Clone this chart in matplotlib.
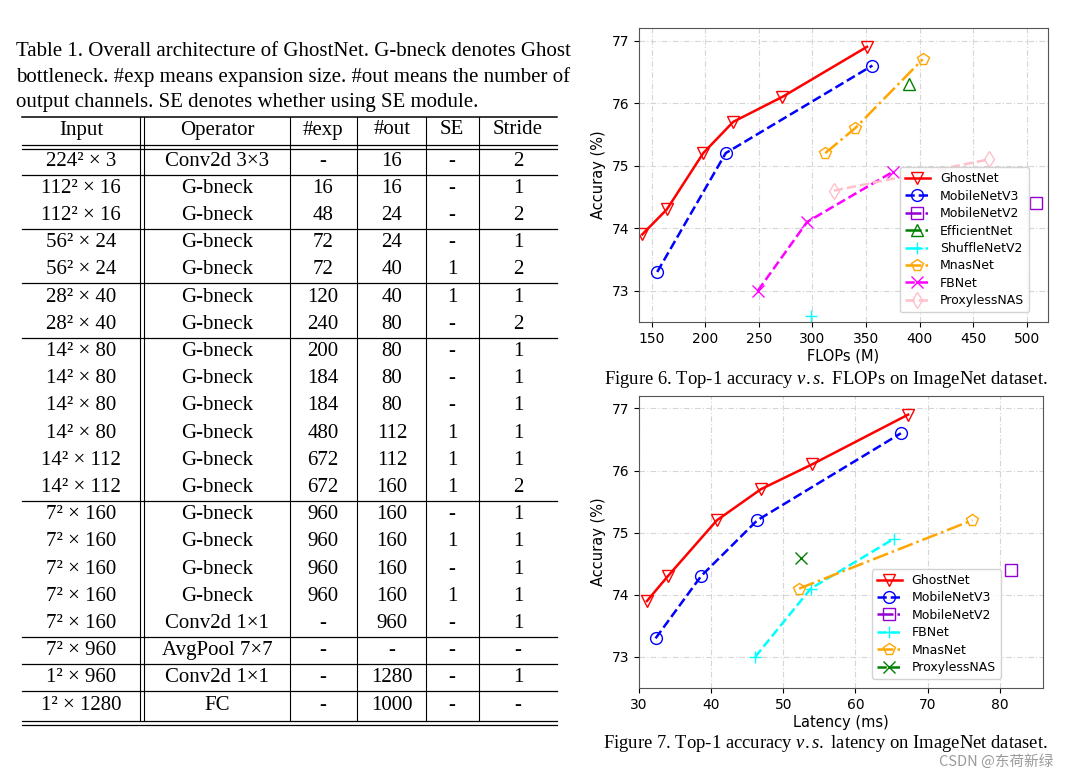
import matplotlib.pyplot as plt

plt.rcParams['mathtext.fontset'] = 'custom'
plt.rcParams['mathtext.rm'] = 'Liberation Serif'
plt.rcParams['mathtext.it'] = 'Liberation Serif:italic'

# ---------------- table data ----------------
caption_lines = [
    "Table 1. Overall architecture of GhostNet. G-bneck denotes Ghost",
    "bottleneck. #exp means expansion size. #out means the number of",
    "output channels. SE denotes whether using SE module.",
]
headers = ['Input', 'Operator', '#exp', '#out', 'SE', 'Stride']
inputs = ['224² × 3', '112² × 16', '112² × 16', '56² × 24', '56² × 24',
          '28² × 40', '28² × 40', '14² × 80', '14² × 80', '14² × 80',
          '14² × 80', '14² × 112', '14² × 112', '7² × 160', '7² × 160',
          '7² × 160', '7² × 160', '7² × 160', '7² × 960', '1² × 960',
          '1² × 1280']
operators = ['Conv2d 3×3'] + ['G-bneck'] * 16 + ['Conv2d 1×1', 'AvgPool 7×7',
                                                 'Conv2d 1×1', 'FC']
exp_sizes = ['-', '16', '48', '72', '72', '120', '240', '200', '184', '184',
             '480', '672', '672', '960', '960', '960', '960', '-', '-', '-', '-']
out_sizes = ['16', '16', '24', '24', '40', '40', '80', '80', '80', '80',
             '112', '112', '160', '160', '160', '160', '160', '960', '-',
             '1280', '1000']
se_flags = ['-', '-', '-', '-', '1', '1', '-', '-', '-', '-', '1', '1', '1',
            '-', '1', '-', '1', '-', '-', '-', '-']
strides = ['2', '1', '2', '1', '2', '1', '2', '1', '1', '1', '1', '1', '2',
           '1', '1', '1', '1', '1', '-', '1', '-']
group_sizes = [1, 2, 2, 2, 6, 5, 1, 1, 1]

# ---------------- figure 6 data (FLOPs) ----------------
flops = {
    'GhostNet': ([141, 164, 198, 226, 272, 351], [73.9, 74.3, 75.2, 75.7, 76.1, 76.9]),
    'MobileNetV3': ([155, 219, 356], [73.3, 75.2, 76.6]),
    'MobileNetV2': ([509], [74.4]),
    'EfficientNet': ([390], [76.3]),
    'ShuffleNetV2': ([299], [72.6]),
    'MnasNet': ([312, 340, 403], [75.2, 75.6, 76.7]),
    'FBNet': ([249, 295, 375], [73.0, 74.1, 74.9]),
    'ProxylessNAS': ([320, 465], [74.6, 75.1]),
}

# ---------------- figure 7 data (latency) ----------------
latency = {
    'GhostNet': ([31.1, 34.0, 40.8, 46.9, 54.0, 67.3], [73.9, 74.3, 75.2, 75.7, 76.1, 76.9]),
    'MobileNetV3': ([32.3, 38.6, 46.4, 66.3], [73.3, 74.3, 75.2, 76.6]),
    'MobileNetV2': ([81.6], [74.4]),
    'FBNet': ([46.1, 53.8, 65.3], [73.0, 74.1, 74.9]),
    'MnasNet': ([52.2, 76.2], [74.1, 75.2]),
    'ProxylessNAS': ([52.5], [74.6]),
}

styles6 = {
    'GhostNet': ('red', 'v', '-'),
    'MobileNetV3': ('blue', 'o', '--'),
    'MobileNetV2': ('darkviolet', 's', '-.'),
    'EfficientNet': ('green', '^', '-.'),
    'ShuffleNetV2': ('cyan', '+', '-.'),
    'MnasNet': ('orange', 'p', '-.'),
    'FBNet': ('magenta', 'x', '--'),
    'ProxylessNAS': ('pink', 'd', '--'),
}
styles7 = {
    'GhostNet': ('red', 'v', '-'),
    'MobileNetV3': ('blue', 'o', '--'),
    'MobileNetV2': ('darkviolet', 's', '-.'),
    'FBNet': ('cyan', '+', '--'),
    'MnasNet': ('orange', 'p', '-.'),
    'ProxylessNAS': ('green', 'x', '--'),
}

W, H = 1067, 776
fig = plt.figure(figsize=(W / 100, H / 100), dpi=100)

# overlay axes in pixel coordinates for the table and captions
ax_t = fig.add_axes([0, 0, 1, 1], zorder=0)
ax_t.set_xlim(0, W)
ax_t.set_ylim(H, 0)
ax_t.axis('off')

serif = 'Liberation Serif'
for i, line in enumerate(caption_lines):
    ax_t.text(16, 52 + 25.5 * i, line, family=serif, fontsize=15,
              ha='left', va='center')

x_left, x_right = 22, 557
col_centers = [81, 217, 323, 392, 452, 518]
col_seps = [290, 357, 426, 479]
y_top, y_head = 117, 130
row0, pitch = 161, 27.2
n_rows = len(inputs)
y_bottom = row0 + pitch * (n_rows - 1) + 16

ax_t.plot([x_left, x_right], [y_top, y_top], color='black', lw=1.1)
for yy in (145, 148.5):
    ax_t.plot([x_left, x_right], [yy, yy], color='black', lw=0.9)
for yy in (y_bottom, y_bottom + 3.5):
    ax_t.plot([x_left, x_right], [yy, yy], color='black', lw=0.9)
for xx in (140, 144):
    ax_t.plot([xx, xx], [y_top, y_bottom], color='black', lw=0.8)
for xx in col_seps:
    ax_t.plot([xx, xx], [y_top, y_bottom], color='black', lw=0.8)

# group separators
idx = 0
for g in group_sizes[:-1]:
    idx += g
    yy = row0 + pitch * (idx - 0.5)
    ax_t.plot([x_left, x_right], [yy, yy], color='black', lw=0.9)

for c, h in zip(col_centers, headers):
    ax_t.text(c, y_head, h, family=serif, fontsize=15, ha='center', va='center')

columns = [inputs, operators, exp_sizes, out_sizes, se_flags, strides]
for r in range(n_rows):
    yy = row0 + pitch * r
    for c, col in zip(col_centers, columns):
        ax_t.text(c, yy, col[r], family=serif, fontsize=15,
                  ha='center', va='center')

ax_t.text(826, 380, r"Figure 6. Top-1 accuracy $\mathit{v.s.}$ FLOPs on ImageNet dataset.",
          family=serif, fontsize=13.4, ha='center', va='center')
ax_t.text(825, 744, r"Figure 7. Top-1 accuracy $\mathit{v.s.}$ latency on ImageNet dataset.",
          family=serif, fontsize=13.4, ha='center', va='center')
ax_t.text(1053, 762, "CSDN @东荷新绿", family=['Noto Sans CJK SC', 'DejaVu Sans'],
          fontsize=10.5, color='#9a9a9a', ha='right', va='center')


def draw_plot(ax, data, styles, xlabel, xlim, xticks, legend_anchor):
    for name, (xs, ys) in data.items():
        color, marker, ls = styles[name]
        ax.plot(xs, ys, color=color, marker=marker, linestyle=ls, lw=1.8,
                markersize=8.5, markerfacecolor='none', markeredgewidth=1.0,
                label=name)
    ax.set_xlim(*xlim)
    ax.set_ylim(72.5, 77.2)
    ax.set_xticks(xticks)
    ax.set_yticks([73, 74, 75, 76, 77])
    ax.tick_params(labelsize=10)
    ax.set_xlabel(xlabel, fontsize=10.5, labelpad=2)
    ax.set_ylabel('Accuray (%)', fontsize=10.5, labelpad=4)
    ax.grid(True, linestyle=(0, (5, 2, 1, 2)), color='#d5d5d5', lw=0.8)
    ax.set_axisbelow(True)
    for s in ax.spines.values():
        s.set_color('#555555')
    ax.legend(loc='lower right', bbox_to_anchor=legend_anchor, fontsize=9,
              framealpha=0.85, edgecolor='#cccccc', borderpad=0.4,
              borderaxespad=0, labelspacing=0.35, handlelength=2.0)


ax1 = fig.add_axes([639 / W, 1 - 322 / H, 409 / W, 294 / H])
draw_plot(ax1, flops, styles6, 'FLOPs (M)', (138, 520),
          [150, 200, 250, 300, 350, 400, 450, 500], (0.954, 0.034))

ax2 = fig.add_axes([639 / W, 1 - 688 / H, 404 / W, 292 / H])
draw_plot(ax2, latency, styles7, 'Latency (ms)', (30, 86),
          [30, 40, 50, 60, 70, 80], (0.896, 0.031))

fig.savefig('out.png', dpi=100)
